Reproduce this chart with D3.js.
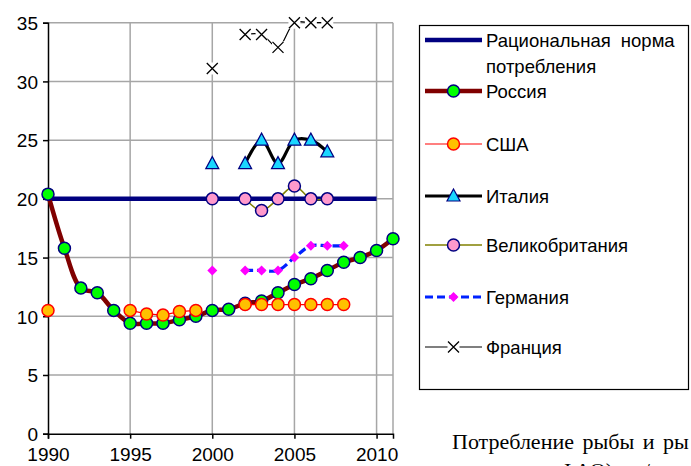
<!DOCTYPE html>
<html>
<head>
<meta charset="utf-8">
<script src="https://cdn.jsdelivr.net/npm/d3@7"></script>
<style>
  body { margin: 0; background: #fff; }
  text { font-family: "Liberation Sans", Arial, sans-serif; fill: #000; }
  .note { font-family: "Liberation Serif", "Times New Roman", serif; }
</style>
</head>
<body>
<div id="chart"></div>
<script>
// years on the x axis
var years = d3.range(1990, 2012);
var xTicks = [1990, 1995, 2000, 2005, 2010];
var yTicks = [0, 5, 10, 15, 20, 25, 30, 35];

// values, kg per person per year (null = no data)
var norm   = [20,20,20,20,20,20,20,20,20,20,20,20,20,20,20,20,20,20,20,20,20,null];
var russia = [20.4,15.8,12.4,12.0,10.5,9.4,9.4,9.4,9.7,10.0,10.5,10.6,11.1,11.3,12.0,12.7,13.2,13.9,14.6,15.0,15.6,16.6];
var usa    = [10.5,null,null,null,null,10.5,10.2,10.1,10.4,10.5,null,null,11.0,11.0,11.0,11.0,11.0,11.0,11.0,null,null,null];
var italy  = [null,null,null,null,null,null,null,null,null,null,23,null,23,25,23,25,25,24,null,null,null,null];
var uk     = [null,null,null,null,null,null,null,null,null,null,20,null,20,19,20,21.1,20,20,null,null,null,null];
var germany= [null,null,null,null,null,null,null,null,null,null,13.9,null,13.9,13.9,13.9,15.0,16,16,16,null,null,null];
var france = [null,null,null,null,null,null,null,null,null,null,31.1,null,34,34,32.9,35,35,35,null,null,null,null];

var W = 691, H = 466;
var svg = d3.select("#chart").append("svg").attr("width", W).attr("height", H);

var x = d3.scaleLinear().domain([1990, 2011]).range([48, 393]);
var y = d3.scaleLinear().domain([0, 35]).range([433.7, 22.7]);

// grid
var grid = svg.append("g");
grid.selectAll(".hg").data(yTicks.filter(d => d > 0)).enter().append("line")
  .attr("x1", x(1990)).attr("x2", x(2011))
  .attr("y1", d => y(d)).attr("y2", d => y(d))
  .attr("stroke", "#a6a6a6").attr("stroke-width", 1.5);
grid.selectAll(".vg").data([1995, 2000, 2005, 2010, 2011]).enter().append("line")
  .attr("x1", d => x(d)).attr("x2", d => x(d))
  .attr("y1", y(0)).attr("y2", y(35))
  .attr("stroke", "#a6a6a6").attr("stroke-width", 1.5);

// axes
var yAxis = svg.append("g").attr("transform", "translate(" + x(1990) + ",0)")
  .call(d3.axisLeft(y).tickValues(yTicks).tickSize(5).tickPadding(6));
var xAxis = svg.append("g").attr("transform", "translate(0," + y(0) + ")")
  .call(d3.axisBottom(x).tickValues(xTicks).tickSize(5).tickPadding(9).tickFormat(d3.format("d")));
[yAxis, xAxis].forEach(function(a){
  a.select(".domain").attr("stroke", "#000").attr("stroke-width", 1.5);
  a.selectAll(".tick line").attr("stroke", "#000").attr("stroke-width", 1.5);
  a.selectAll("text").style("font-size", "19px").attr("fill", "#000");
});
yAxis.selectAll("text").attr("dy", "0.36em").attr("x", -10);
xAxis.selectAll("text").attr("dy", "0.72em");

// series config
var series = [
  {name: "Рациональная норма", name2: "потребления", values: norm, color: "#000080", width: 4.5, curve: d3.curveLinear, marker: "none", ly: 40},
  {name: "Россия", values: russia, color: "#800000", width: 4.5, curve: d3.curveCatmullRom, marker: "circle", fill: "#00ff00", mstroke: "#000080", ly: 91},
  {name: "США", values: usa, color: "#ff0000", width: 1.2, curve: d3.curveLinear, marker: "circle", fill: "#ffc000", mstroke: "#ff0000", ly: 144},
  {name: "Италия", values: italy, color: "#000000", width: 3.2, curve: d3.curveCatmullRom, marker: "triangle", fill: "#1ad6ff", mstroke: "#000080", ly: 196},
  {name: "Великобритания", values: uk, color: "#808000", width: 1.5, curve: d3.curveCatmullRom, marker: "circle", fill: "#ff99cc", mstroke: "#000080", ly: 245},
  {name: "Германия", values: germany, color: "#0022ff", width: 3.2, dash: "8,4", curve: d3.curveCatmullRom, marker: "diamond", fill: "#ff00ff", ly: 297},
  {name: "Франция", values: france, color: "#000000", width: 1.2, curve: d3.curveCatmullRom, marker: "cross", ly: 347}
];

function drawMarker(g, type, s, cx, cy) {
  if (type === "circle") {
    g.append("circle").attr("cx", cx).attr("cy", cy).attr("r", 6)
      .attr("fill", s.fill).attr("stroke", s.mstroke).attr("stroke-width", 1.5);
  } else if (type === "triangle") {
    g.append("path").attr("d", "M" + cx + "," + (cy - 7) + "L" + (cx + 6.5) + "," + (cy + 5) + "L" + (cx - 6.5) + "," + (cy + 5) + "Z")
      .attr("fill", s.fill).attr("stroke", s.mstroke).attr("stroke-width", 1.2);
  } else if (type === "diamond") {
    g.append("path").attr("d", "M" + cx + "," + (cy - 5) + "L" + (cx + 5) + "," + cy + "L" + cx + "," + (cy + 5) + "L" + (cx - 5) + "," + cy + "Z")
      .attr("fill", s.fill);
  } else if (type === "cross") {
    g.append("rect").attr("x", cx - 6).attr("y", cy - 6).attr("width", 12).attr("height", 12).attr("fill", "#fff");
    g.append("path").attr("d", "M" + (cx - 5.5) + "," + (cy - 5.5) + "L" + (cx + 5.5) + "," + (cy + 5.5) + "M" + (cx + 5.5) + "," + (cy - 5.5) + "L" + (cx - 5.5) + "," + (cy + 5.5))
      .attr("stroke", "#000").attr("stroke-width", 1.3).attr("fill", "none");
  }
}

var plot = svg.append("g");
series.forEach(function(s){
  var pts = years.map((yr, i) => ({year: yr, v: s.values[i]}));
  var line = d3.line().defined(d => d.v != null).x(d => x(d.year)).y(d => y(d.v)).curve(s.curve);
  plot.append("path").datum(pts).attr("d", line)
    .attr("fill", "none").attr("stroke", s.color).attr("stroke-width", s.width)
    .attr("stroke-dasharray", s.dash || null);
});
// markers drawn on top of all lines
series.forEach(function(s){
  if (s.marker === "none") return;
  var g = plot.append("g");
  years.forEach(function(yr, i){
    if (s.values[i] != null) drawMarker(g, s.marker, s, x(yr), y(s.values[i]));
  });
});

// legend
var lg = svg.append("g");
lg.append("rect").attr("x", 419.5).attr("y", 25.5).attr("width", 269).attr("height", 364)
  .attr("fill", "#fff").attr("stroke", "#000").attr("stroke-width", 1.2);
series.forEach(function(s){
  lg.append("line").attr("x1", 425).attr("x2", 482).attr("y1", s.ly).attr("y2", s.ly)
    .attr("stroke", s.color).attr("stroke-width", s.width).attr("stroke-dasharray", s.dash || null);
  if (s.marker !== "none") drawMarker(lg, s.marker, s, 453.5, s.ly);
  lg.append("text").attr("x", 486).attr("y", s.ly + 7).style("font-size", "18.5px")
    .attr("word-spacing", "5px").text(s.name);
  if (s.name2) lg.append("text").attr("x", 486).attr("y", s.ly + 33).style("font-size", "18.5px").text(s.name2);
});

// caption below legend (cut by the frame)
svg.append("text").attr("class", "note").attr("x", 452).attr("y", 449).style("font-size", "22px")
  .attr("word-spacing", "3px").text("Потребление рыбы и ры");
svg.append("text").attr("class", "note").attr("x", 452).attr("y", 478).style("font-size", "22px")
  .text("по данным ФАО), кг/чел.");
</script>
</body>
</html>
